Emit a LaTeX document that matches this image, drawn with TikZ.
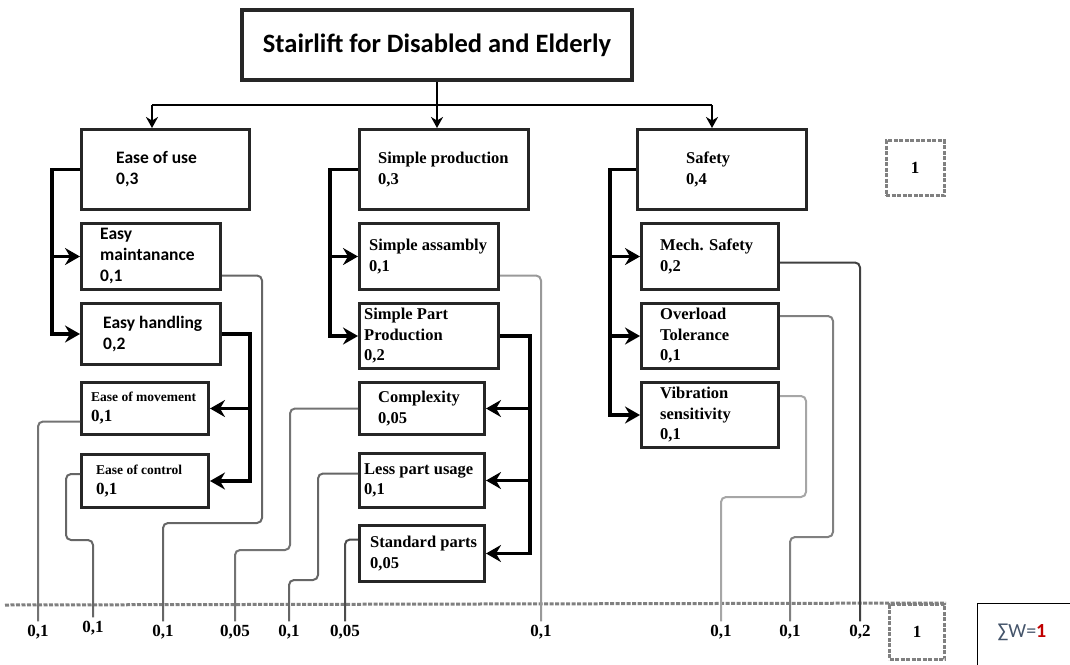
\documentclass[tikz,border=0pt]{standalone}
\usepackage{fontspec}
\setmainfont{Liberation Serif}
\newfontfamily\carlito{Carlito}
\usetikzlibrary{arrows.meta,calc}
\definecolor{sigblue}{HTML}{44546A}
\definecolor{sigred}{HTML}{C00000}

\tikzset{
  box/.style={draw=black!85, line width=3pt, fill=white, anchor=north west, inner sep=0pt},
  sans/.style={font=\carlito\bfseries\fontsize{17.5}{21}\selectfont, anchor=west, align=left, inner sep=0pt},
  serif/.style={font=\bfseries\fontsize{16.5}{20.5}\selectfont, anchor=west, align=left, inner sep=0pt},
  bracket/.style={line width=3.6pt, -{Stealth[length=15pt,width=17pt,inset=5pt]}},
  link/.style={line width=2.4pt},
  wire/.style={line width=2pt, rounded corners=5pt},
  num/.style={font=\bfseries\fontsize{17}{20}\selectfont, inner sep=3.5pt},
  dotline/.style={draw=black!50, line width=3pt, dash pattern=on 4pt off 1.5pt},
  dotbox/.style={dotline, minimum height=55pt, font=\bfseries\fontsize{17}{20}\selectfont},
}

\begin{document}
\begin{tikzpicture}[x=1pt,y=-1pt]
\useasboundingbox (0,0) rectangle (1070,664);

\node[box, line width=3.5pt, anchor=center, minimum width=390pt, minimum height=70pt, font=\carlito\bfseries\fontsize{26.5}{30}\selectfont] (ttl) at (437,45) {Stairlift for Disabled and Elderly};

\node[box, minimum width=168pt, minimum height=80pt] (eou) at (80,128) {};
\node[box, minimum width=139pt, minimum height=66pt] (emt) at (80,222) {};
\node[box, minimum width=139pt, minimum height=61pt] (ehd) at (80,302) {};
\node[box, minimum width=127pt, minimum height=52pt] (emv) at (80,381) {};
\node[box, minimum width=127pt, minimum height=53pt] (ect) at (80,453) {};

\node[box, minimum width=169pt, minimum height=80pt] (spr) at (358,128) {};
\node[box, minimum width=139pt, minimum height=66pt] (sas) at (358,222) {};
\node[box, minimum width=139pt, minimum height=65pt] (spp) at (358,302) {};
\node[box, minimum width=125pt, minimum height=52pt] (cpx) at (358,381) {};
\node[box, minimum width=125pt, minimum height=54pt] (lpu) at (358,452) {};
\node[box, minimum width=125pt, minimum height=56pt] (stp) at (358,524) {};

\node[box, minimum width=169pt, minimum height=80pt] (saf) at (636,128) {};
\node[box, minimum width=137pt, minimum height=66pt] (mec) at (640,222) {};
\node[box, minimum width=137pt, minimum height=65pt] (ovl) at (640,302) {};
\node[box, minimum width=137pt, minimum height=65pt] (vib) at (640,381) {};

\node[sans] (eout) at ([xshift=36pt]eou.west) {Ease of use\\0,3};
\node[sans] (emtt) at ([xshift=20pt]emt.west) {Easy\\maintanance\\0,1};
\node[sans] (ehdt) at ([xshift=23pt]ehd.west) {Easy handling\\0,2};
\node[serif, font=\bfseries\fontsize{17}{20}\selectfont] (emvt) at ([xshift=11pt]emv.west) {{\fontsize{13.5}{16}\selectfont Ease of movement}\\0,1};
\node[serif, font=\bfseries\fontsize{17}{20}\selectfont] (ectt) at ([xshift=16pt]ect.west) {{\fontsize{13.5}{16}\selectfont Ease of control}\\0,1};

\node[serif] (sprt) at ([xshift=20pt]spr.west) {Simple production\\0,3};
\node[serif] (sast) at ([xshift=11pt]sas.west) {Simple assambly\\0,1};
\node[serif] (sppt) at ([xshift=6pt]spp.west) {Simple Part\\Production\\0,2};
\node[serif] (cpxt) at ([xshift=20pt]cpx.west) {Complexity\\0,05};
\node[serif] (lput) at ([xshift=6pt]lpu.west) {Less part usage\\0,1};
\node[serif] (stpt) at ([xshift=12pt]stp.west) {Standard parts\\0,05};

\node[serif] (saft) at ([xshift=50pt]saf.west) {Safety\\0,4};
\node[serif] (mect) at ([xshift=20pt]mec.west) {Mech. Safety\\0,2};
\node[serif] (ovlt) at ([xshift=20pt]ovl.west) {Overload\\Tolerance\\0,1};
\node[serif] (vibt) at ([xshift=20pt]vib.west) {Vibration\\sensitivity\\0,1};

\node[dotbox, minimum width=58pt] (tot) at (915,168) {1};

\coordinate (hl) at (152,105);
\coordinate (hr) at (712,105);
\draw[link] (ttl.south) -- (ttl.south |- hl);
\draw[link] (hl) -- (hr);
\draw[link, -{Stealth[length=11pt,width=12pt,inset=3.5pt]}] (hl) -- (hl |- eou.north);
\draw[link, -{Stealth[length=11pt,width=12pt,inset=3.5pt]}] (ttl.south |- hl) -- (ttl.south |- spr.north);
\draw[link, -{Stealth[length=11pt,width=12pt,inset=3.5pt]}] (hr) -- (hr |- saf.north);

\draw[bracket] (eou.west) -- ++(-28,0) coordinate (b1) |- (ehd.west);
\draw[bracket] (b1 |- emt.west) -- (emt.west);
\draw[bracket] (ehd.east) -- ++(28,0) coordinate (b2) |- (ect.east);
\draw[bracket] (b2 |- emv.east) -- (emv.east);
\draw[bracket] (spr.west) -- ++(-28,0) coordinate (b3) |- (spp.west);
\draw[bracket] (b3 |- sas.west) -- (sas.west);
\draw[bracket] (spp.east) -- ++(30,0) coordinate (b4) |- (stp.east);
\draw[bracket] (b4 |- cpx.east) -- (cpx.east);
\draw[bracket] (b4 |- lpu.east) -- (lpu.east);
\draw[bracket] (saf.west) -- ++(-26,0) coordinate (b5) |- (vib.west);
\draw[bracket] (b5 |- mec.west) -- (mec.west);
\draw[bracket] (b5 |- ovl.west) -- (ovl.west);

\coordinate (dl) at (5,605);
\node[dotbox, minimum width=55pt] (one) at (917,632) {1};
\draw[dotline] (dl) -- (one.north east);

\node[num] (n1) at (38,632) {0,1};
\node[num] (n2) at (93,628) {0,1};
\node[num] (n3) at (163,632) {0,1};
\node[num] (n4) at (235,632) {0,05};
\node[num] (n5) at (289,632) {0,1};
\node[num] (n6) at (345,632) {0,05};
\node[num] (n7) at (541,632) {0,1};
\node[num] (n8) at (721,632) {0,1};
\node[num] (n9) at (790,632) {0,1};
\node[num] (n10) at (860,632) {0,2};

\draw[wire, draw=black!55] ([yshift=-13pt]emv.west) -| (n1.north);
\draw[wire, draw=black!60] ([yshift=7pt]ect.west) -| (66,540) -| (n2.north);
\draw[wire, draw=black!60] ([yshift=-19pt]emt.east) -| (262,523) -| (n3.north);
\draw[wire, draw=black!55] (cpx.west) -| (290,550) -| (n4.north);
\draw[wire, draw=black!60] ([yshift=7pt]lpu.west) -| (318,580) -| (n5.north);
\draw[wire, draw=black!70] ([yshift=14pt]stp.west) -| (n6.north);
\draw[wire, draw=black!40] ([yshift=-19pt]sas.east) -| (n7.north);
\draw[wire, draw=black!35] ([yshift=19pt]vib.east) -| (806,497) -| (n8.north);
\draw[wire, draw=black!50] ([yshift=20pt]ovl.east) -| (833,537) -| (n9.north);
\draw[wire, draw=black!75] ([yshift=-6pt]mec.east) -| (n10.north);

\node[draw, line width=1pt, anchor=north west, minimum width=110pt, minimum height=80pt] (sig) at (977,603) {};
\node[font=\carlito\fontsize{20}{24}\selectfont, text=sigblue] (sigt) at (1022,632) {∑W=\textcolor{sigred}{\bfseries 1}};

\end{tikzpicture}
\end{document}
